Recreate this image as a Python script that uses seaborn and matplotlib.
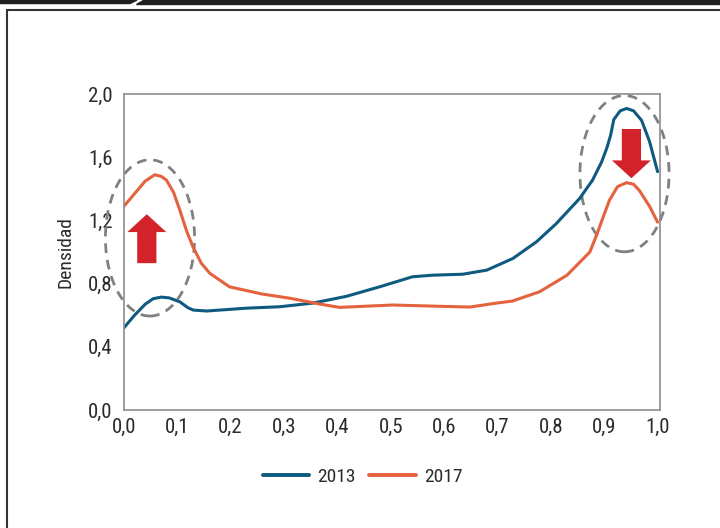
import numpy as np
import pandas as pd
import seaborn as sns
import matplotlib.pyplot as plt
from matplotlib.patches import Ellipse, FancyArrow, Polygon
from matplotlib.lines import Line2D

# densidad
x_2013 = [0.0, 0.02, 0.04, 0.055, 0.07, 0.085, 0.105, 0.12, 0.13, 0.155, 0.23, 0.292, 0.354,
          0.417, 0.479, 0.541, 0.579, 0.635, 0.68, 0.729, 0.773, 0.81, 0.854, 0.878,
          0.895, 0.905, 0.912, 0.918, 0.93, 0.942, 0.955, 0.97, 0.985, 1.0]
dens_2013 = [0.52, 0.60, 0.67, 0.705, 0.715, 0.71, 0.685, 0.648, 0.633, 0.627, 0.645, 0.654, 0.677,
             0.72, 0.78, 0.844, 0.854, 0.86, 0.886, 0.96, 1.065, 1.18, 1.34, 1.455,
             1.57, 1.66, 1.74, 1.84, 1.895, 1.91, 1.895, 1.835, 1.70, 1.51]
x_2017 = [0.0, 0.02, 0.04, 0.058, 0.07, 0.08, 0.093, 0.105, 0.118, 0.13, 0.145, 0.161, 0.198,
          0.26, 0.311, 0.367, 0.404, 0.504, 0.579, 0.648, 0.698, 0.728, 0.779, 0.83, 0.873,
          0.886, 0.9, 0.91, 0.925, 0.942, 0.955, 0.966, 0.985, 1.0]
dens_2017 = [1.29, 1.37, 1.45, 1.49, 1.48, 1.455, 1.38, 1.265, 1.13, 1.03, 0.93, 0.866, 0.78,
             0.734, 0.708, 0.671, 0.65, 0.665, 0.658, 0.652, 0.677, 0.69, 0.749, 0.853, 1.0,
             1.11, 1.24, 1.33, 1.415, 1.44, 1.43, 1.39, 1.29, 1.19]

df = pd.concat([
    pd.DataFrame({'x': x_2013, 'densidad': dens_2013, 'serie': '2013'}),
    pd.DataFrame({'x': x_2017, 'densidad': dens_2017, 'serie': '2017'}),
])

sns.set_style('white')
plt.rcParams['font.family'] = ['Roboto Condensed', 'Liberation Sans Narrow', 'Liberation Sans', 'DejaVu Sans']

fig = plt.figure(figsize=(7.2, 5.28), dpi=100)
ax = fig.add_axes([0.172, 0.2235, 0.745, 0.598])

colors = {'2013': '#0f5a80', '2017': '#e4623d'}
sns.lineplot(data=df, x='x', y='densidad', hue='serie', palette=colors, lw=2.2,
             sort=False, estimator=None, ax=ax)
for line in ax.get_lines():
    line.set_solid_joinstyle('round')

ax.set_xlim(0, 1.005)
ax.set_ylim(0, 2.0)
ax.set_xticks(np.arange(0, 1.01, 0.1))
ax.set_yticks(np.arange(0, 2.01, 0.4))
ax.set_xticklabels([f'{v:.1f}'.replace('.', ',') for v in np.arange(0, 1.01, 0.1)])
ax.set_yticklabels([f'{v:.1f}'.replace('.', ',') for v in np.arange(0, 2.01, 0.4)])
ax.tick_params(labelsize=15, colors='#2b2b2b', length=0)
ax.tick_params(axis='y', pad=8)
ax.tick_params(axis='x', pad=6)
ax.set_xlabel('')
ax.set_ylabel('Densidad', fontsize=14, color='#2b2b2b', labelpad=10)
for s in ax.spines.values():
    s.set_color('#8c8c8c')
    s.set_linewidth(1.2)

# elipses y flechas
for cx, cy in [(0.049, 1.09), (0.938, 1.497)]:
    ax.add_patch(Ellipse((cx, cy), 0.167, 0.99, fill=False, ls=(0, (3.5, 2.5)),
                         ec='#808080', lw=2, clip_on=False))
ax.add_patch(FancyArrow(0.043, 0.93, 0, 0.31, width=0.036, head_width=0.073,
                        head_length=0.113, length_includes_head=True,
                        color='#d2232a', lw=0))
ax.add_patch(FancyArrow(0.951, 1.78, 0, -0.312, width=0.036, head_width=0.073,
                        head_length=0.113, length_includes_head=True,
                        color='#d2232a', lw=0))

leg = ax.legend(loc='center', bbox_to_anchor=(0.445, -0.212), ncol=2, frameon=False,
                fontsize=14, handlelength=2.4, columnspacing=0.7, handletextpad=0.4)
for t in leg.get_texts():
    t.set_color('#2b2b2b')
for line in leg.get_lines():
    line.set_linewidth(2.8)

# marco de la pagina
H = 528.0
fig.add_artist(Polygon([(0, 1), (137 / 720, 1), (130 / 720, 1 - 3.5 / H), (0, 1 - 3.5 / H)],
                       closed=True, color='#1e1e1e', transform=fig.transFigure))
fig.add_artist(Polygon([(143 / 720, 1), (1, 1), (1, 1 - 3.5 / H), (136 / 720, 1 - 3.5 / H)],
                       closed=True, color='#1e1e1e', transform=fig.transFigure))
fig.add_artist(Line2D([7 / 720, 1], [1 - 10 / H, 1 - 10 / H], color='#333333', lw=1.5))
fig.add_artist(Line2D([7 / 720, 7 / 720], [0, 1 - 10 / H], color='#333333', lw=1.5))

plt.savefig('out.png', dpi=100)
